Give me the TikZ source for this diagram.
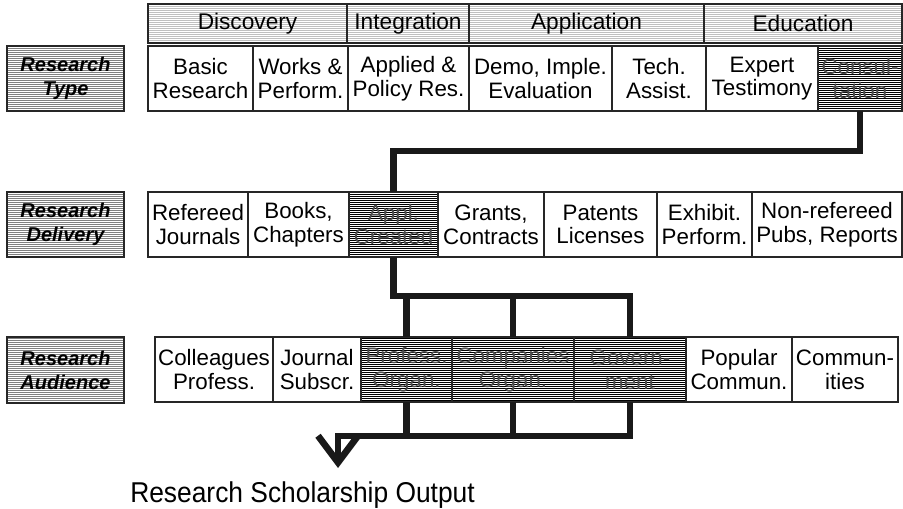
\documentclass[tikz,border=0pt]{standalone}
\usepackage{fontspec}
\usepackage{graphicx}
\setmainfont{Liberation Sans}
\usetikzlibrary{patterns,arrows.meta}

% thin horizontal hatching, one line every 1.5pt
\pgfdeclarepatternformonly{fine lines}{\pgfqpoint{-0.5pt}{0pt}}{\pgfqpoint{3.5pt}{1.5pt}}{\pgfqpoint{3pt}{1.5pt}}{%
  \pgfsetlinewidth{0.8pt}%
  \pgfpathmoveto{\pgfqpoint{-0.5pt}{0.4pt}}%
  \pgfpathlineto{\pgfqpoint{3.5pt}{0.4pt}}%
  \pgfusepath{stroke}}

\newcommand\cellfont{\fontsize{16.75pt}{17.75pt}\selectfont}
\newcommand\headfont{\fontsize{17pt}{18pt}\selectfont}
\newcommand\tagfont{\fontsize{15pt}{18pt}\selectfont\bfseries\itshape}
\newcommand\outfont{\fontsize{21.5pt}{26pt}\selectfont}

\begin{document}
\begin{tikzpicture}[x=0.75pt,y=-0.75pt,
			wd/.style={minimum width=#1*0.75pt},
			ht/.style={minimum height=#1*0.75pt},
			cell/.style={draw=black!85,line width=1pt,anchor=north west,inner sep=0pt,outer sep=0pt,align=center,font=\cellfont},
			head/.style={cell,ht=39,pattern=fine lines,pattern color=black!25,font=\headfont},
			item/.style={cell,ht=65},
			dark/.style={item,pattern=fine lines,pattern color=black,text=black!70},
			tag/.style={cell,wd=117,ht=65,pattern=fine lines,pattern color=black!50,font=\tagfont},
			link/.style={draw=black!90,line width=5pt,line join=miter},
			outarrow/.style={link,-{Straight Barb[length=20pt,width=30pt,sharp]}}]
			\useasboundingbox (0,0) rectangle (903,509);
			%% scholarship headings
			\node[head,wd=199] (disc) at (148,4) {Discovery};
			\node[head,wd=122] (integ) at (347,4) {Integration};
			\node[head,wd=235] (applic) at (469,4) {Application};
			\node[head,wd=198] (educ) at (704,4) {Education};
			%% research type
			\node[tag] (rtype) at (7,46) {Research\\Type};
			\node[item,wd=105] (basic) at (148,46) {Basic\\Research};
			\node[item,wd=95] (works) at (253,46) {Works \&\\Perform.};
			\node[item,wd=121] (policy) at (348,46) {Applied \&\\Policy Res.};
			\node[item,wd=143] (demo) at (469,46) {Demo, Imple.\\Evaluation};
			\node[item,wd=94] (tech) at (612,46) {Tech.\\Assist.};
			\node[item,wd=112] (expert) at (706,46) {Expert\\Testimony};
			\node[dark,wd=84] (consult) at (818,46) {Consul-\\tation};
			%% research delivery
			\node[tag] (rdeliv) at (7,192) {Research\\Delivery};
			\node[item,wd=100] (refereed) at (148,192) {Refereed\\Journals};
			\node[item,wd=101] (books) at (248,192) {Books,\\Chapters};
			\node[dark,wd=89] (created) at (349,192) {Appl.\\Created};
			\node[item,wd=106] (grants) at (438,192) {Grants,\\Contracts};
			\node[item,wd=113] (patents) at (544,192) {Patents\\Licenses};
			\node[item,wd=95] (exhibit) at (657,192) {Exhibit.\\Perform.};
			\node[item,wd=150] (nonref) at (752,192) {Non-refereed\\Pubs, Reports};
			%% research audience
			\node[tag,ht=66] (raud) at (7,337) {Research\\Audience};
			\node[item,wd=118] (colleag) at (155,337) {Colleagues\\Profess.};
			\node[item,wd=88] (journal) at (273,337) {Journal\\Subscr.};
			\node[dark,wd=91] (porgan) at (361,337) {Profess.\\Organ.};
			\node[dark,wd=122] (corgan) at (452,337) {Companies\\Organ.};
			\node[dark,wd=112] (govt) at (574,337) {Govern-\\ment};
			\node[item,wd=106] (popular) at (686,337) {Popular\\Commun.};
			\node[item,wd=106] (communit) at (792,337) {Commun-\\ities};
			%% path through the chosen cells
			\draw[link] (consult.south) -- ++(0,40) -| (created.north);
			\draw[link] (created.south) -- ++(0,39) coordinate (fork) -| (govt.north);
			\draw[link] (porgan.north) -- (porgan.north |- fork);
			\draw[link] (corgan.north) -- (corgan.north |- fork);
			\draw[link] (porgan.south) -- ++(0,34) coordinate (merge);
			\draw[link] (corgan.south) -- (corgan.south |- merge);
			\node[font=\outfont,anchor=base west,inner sep=0pt] (output) at (130,502) {\scalebox{0.92}[1]{Research Scholarship Output}};
			\coordinate (tip) at (338,468);
			\draw[outarrow] (govt.south) -- (govt.south |- merge) -| (tip);
		\end{tikzpicture}
\end{document}
